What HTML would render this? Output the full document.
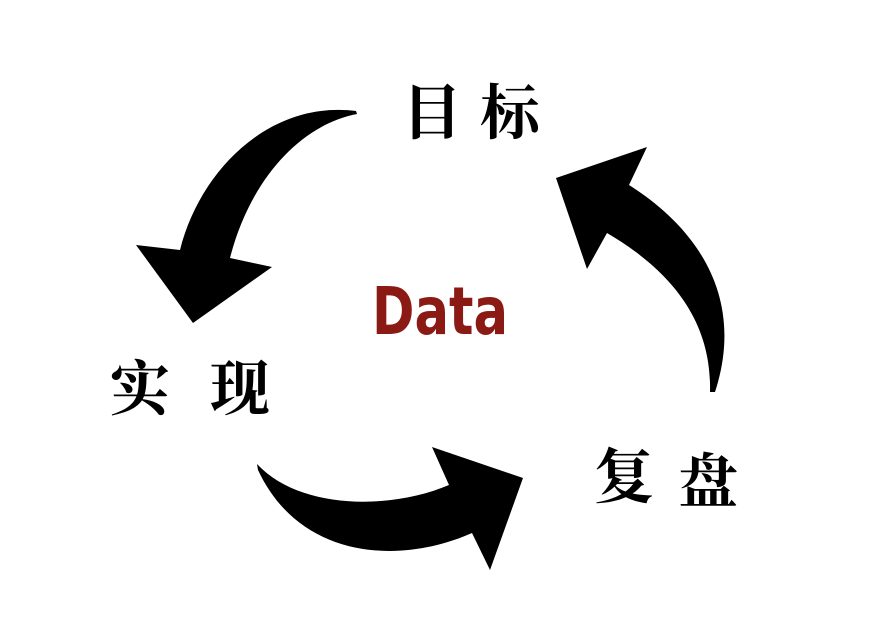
<!DOCTYPE html>
<html><head><meta charset="utf-8"><style>
html,body{margin:0;padding:0;background:#fff;}
svg{display:block;}
</style></head><body>
<svg width="870" height="640" viewBox="0 0 870 640" xmlns="http://www.w3.org/2000/svg">
<rect width="870" height="640" fill="#fff"/>
<path d="M356,111 C270,100 200,170 180,250 L136,245 L193,323 L272,267 L230,258 C250,180 300,125 357,114 Z" fill="#000"/>
<path d="M629,185 C700,230 745,300 715,392 L710,392 C712,320 670,270 607,233 L587,269 L556,178 L647,147 Z" fill="#000"/>
<path d="M257,464 C300,510 390,510 449,485 L432,447 L523,478 L490,570 L472,533 C400,565 300,560 258,470 Z" fill="#000"/>
<g font-family="'Noto Serif CJK SC','Noto Sans CJK SC',serif" font-weight="700" font-size="60" fill="#000">
<text x="402" y="134">目</text><text x="480" y="134">标</text>
<text x="110" y="410">实</text><text x="210" y="410">现</text>
<text x="594" y="498">复</text><text x="678" y="503">盘</text>
</g>
<text x="372" y="334" font-family="'DejaVu Sans','Liberation Sans',sans-serif" font-weight="bold" font-size="66" fill="#8b1a14" textLength="136" lengthAdjust="spacingAndGlyphs">Data</text>
</svg>
</body></html>
